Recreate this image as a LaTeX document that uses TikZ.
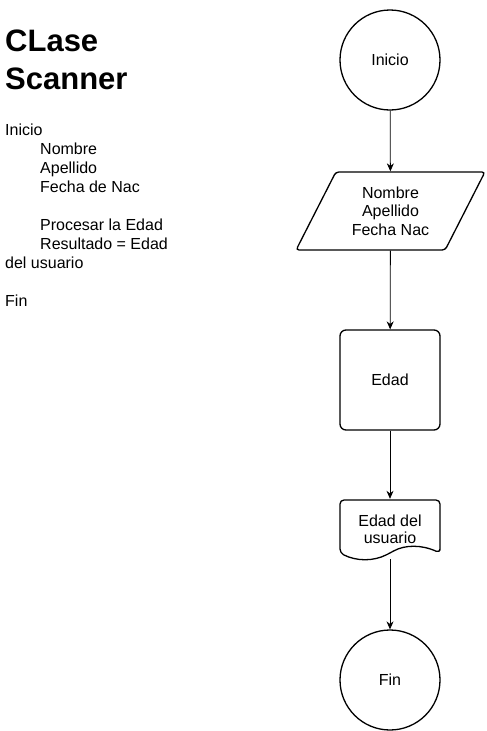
\documentclass[tikz,border=0pt]{standalone}
\usepackage{fontspec}
\setmainfont{Liberation Sans}
\usetikzlibrary{arrows.meta, shapes.geometric}

\begin{document}
\begin{tikzpicture}[
  x=1pt, y=-1pt,
  font=\fontsize{16}{18.5}\selectfont,
  >={Stealth[length=8pt,width=7pt]},
  term/.style={
    draw, circle, line width=1.3pt, minimum size=100pt, inner sep=0pt
  },
  io/.style={
    draw, trapezium, trapezium left angle=60, trapezium right angle=120,
    trapezium stretches=true, minimum width=189pt, minimum height=78pt,
    rounded corners=3pt, line width=1.3pt, align=center, inner sep=0pt
  },
  proc/.style={
    draw, rectangle, rounded corners=6pt, line width=1.3pt,
    minimum width=100pt, minimum height=100pt
  },
  docu/.style={
    rectangle, minimum width=100pt, minimum height=60pt, align=center,
    font=\fontsize{16}{17}\selectfont, inner sep=0pt
  },
  title/.style={
    anchor=north west, inner sep=0pt, align=left,
    font=\fontsize{31}{38.4}\selectfont\bfseries
  },
  notes/.style={
    anchor=north west, inner sep=0pt, align=left,
    font=\fontsize{16}{19}\selectfont
  },
  arr/.style={->, line width=0.8pt}
]
  \useasboundingbox[fill=white] (0,0) rectangle (487,731);

  \node[title] (titulo) at (5,29.5) {CLase\\Scanner};
  \node[notes] (pasos) at (5,124) {Inicio\\
    \hspace*{35pt}Nombre\\
    \hspace*{35pt}Apellido\\
    \hspace*{35pt}Fecha de Nac\\[19pt]
    \hspace*{35pt}Procesar la Edad\\
    \hspace*{35pt}Resultado = Edad\\
    del usuario\\[19pt]
    Fin};

  \node[term] (inicio) at (390,60) {Inicio};
  \node[io] (datos) at (390.5,211) {Nombre\\Apellido\\Fecha Nac};
  \node[proc] (edad) at (390,380) {Edad};
  \node[docu] (salida) at (390,529) {Edad del\\usuario};
  \node[term] (fin) at (390,680) {Fin};

  \draw[line width=1.3pt, rounded corners=4pt] (440,553) -- (440,500)
    -- (340,500) -- (340,553)
    .. controls (356.7,561.4) and (373.3,561.4) .. (390,553)
    .. controls (405,544.6) and (421.7,544.6) .. (440,553) -- cycle;

  \draw[arr] (inicio) -- (datos);
  \draw[arr] (datos) -- (edad);
  \draw[arr] (edad) -- (salida);
  \draw[arr] (salida) -- (fin);
\end{tikzpicture}
\end{document}
